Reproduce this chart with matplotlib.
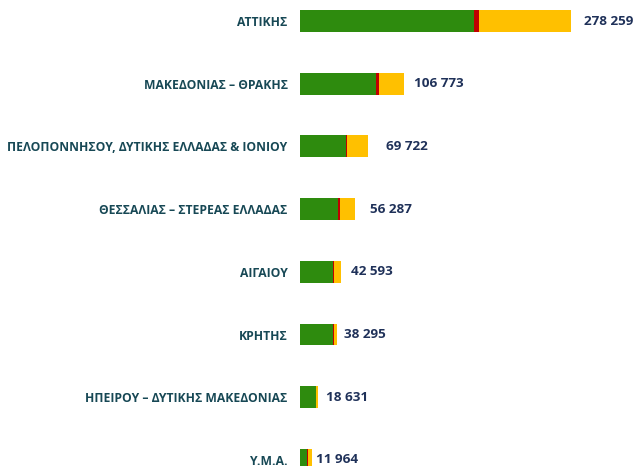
import matplotlib
matplotlib.use("Agg")
import matplotlib.pyplot as plt
import numpy as np

categories = [
    "ΑΤΤΙΚΗΣ",
    "ΜΑΚΕΔΟΝΙΑΣ – ΘΡΑΚΗΣ",
    "ΠΕΛΟΠΟΝΝΗΣΟΥ, ΔΥΤΙΚΗΣ ΕΛΛΑΔΑΣ & ΙΟΝΙΟΥ",
    "ΘΕΣΣΑΛΙΑΣ – ΣΤΕΡΕΑΣ ΕΛΛΑΔΑΣ",
    "ΑΙΓΑΙΟΥ",
    "ΚΡΗΤΗΣ",
    "ΗΠΕΙΡΟΥ – ΔΥΤΙΚΗΣ ΜΑΚΕΔΟΝΙΑΣ",
    "Υ.Μ.Α.",
]
green_vals = [179000, 77800, 47300, 39400, 34000, 34300, 16000, 7500]
red_vals = [4800, 2900, 1400, 1300, 700, 800, 600, 1000]
totals = [278259, 106773, 69722, 56287, 42593, 38295, 18631, 11964]
total_labels = ["278 259", "106 773", "69 722", "56 287", "42 593", "38 295", "18 631", "11 964"]
yellow_vals = [t - g - r for t, g, r in zip(totals, green_vals, red_vals)]

label_offsets_pt = [9, 7, 13, 11, 7, 5, 6, 3]

fig = plt.figure(figsize=(6.37, 4.66), dpi=100)
ax = fig.add_axes([300/637, 0, 337/637, 1])

y = np.arange(len(categories))
h = 0.35
ax.barh(y, green_vals, height=h, color="#2E8B0E")
ax.barh(y, red_vals, left=green_vals, height=h, color="#C00000")
left2 = [g + r for g, r in zip(green_vals, red_vals)]
ax.barh(y, yellow_vals, left=left2, height=h, color="#FFC000")

ax.set_xlim(0, 346000)
ax.set_ylim(7.097, -0.335)

for i, (t, lab) in enumerate(zip(totals, total_labels)):
    ax.annotate(lab, xy=(t, i), xytext=(label_offsets_pt[i], 0), textcoords="offset points",
                ha="left", va="center", fontsize=9.7, fontweight="bold",
                color="#1F3159", family="Open Sans", clip_on=False, annotation_clip=False)

ax.set_yticks(y)
ax.set_yticklabels(categories, fontsize=8.7, fontweight="bold", color="#174855", family="Open Sans")
ax.tick_params(axis="y", length=0, pad=9)
ax.set_xticks([])
for s in ax.spines.values():
    s.set_visible(False)

fig.savefig("out.png", dpi=100)
